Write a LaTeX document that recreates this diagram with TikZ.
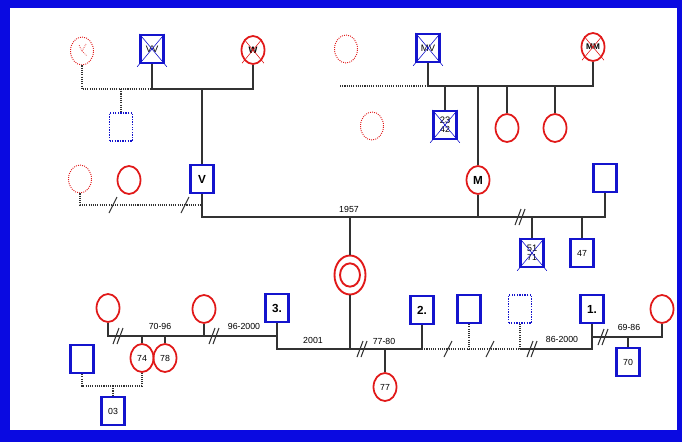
\documentclass[tikz,border=0pt]{standalone}
\usepackage{fontspec}
\setmainfont{Liberation Sans}
\usetikzlibrary{shapes.geometric}
\definecolor{pblue}{RGB}{20,20,205}
\definecolor{pred}{RGB}{225,25,25}
\definecolor{pline}{RGB}{50,50,50}
\definecolor{pframe}{RGB}{10,10,225}
\tikzset{
  male/.style={draw=pblue, line width=1.8pt, minimum width=0.69cm, minimum height=0.84cm, inner sep=0pt, font=\fontsize{7.5}{8}\selectfont},
  female/.style={ellipse, draw=pred, line width=1.5pt, minimum width=0.69cm, minimum height=0.84cm, inner sep=0pt, font=\fontsize{7.5}{8}\selectfont},
  ghostm/.style={draw=pblue, densely dotted, line width=1.2pt, minimum width=0.69cm, minimum height=0.84cm, inner sep=0pt},
  ghostf/.style={ellipse, draw=pred, densely dotted, line width=0.8pt, minimum width=0.69cm, minimum height=0.84cm, inner sep=0pt},
  link/.style={draw=pline, line width=0.9pt},
  dlink/.style={draw=pline, densely dotted, line width=0.9pt},
  yr/.style={font=\fontsize{7.5}{8}\selectfont, inner sep=0pt},
  tag/.style={font=\bfseries\fontsize{10}{12}\selectfont},
  xline/.style={line width=0.5pt, shorten >=-3pt}
}
\begin{document}
\begin{tikzpicture}[x=0.03cm, y=-0.03cm]
    \useasboundingbox (0,0) rectangle (682,442);
    \fill[pframe] (0,0) rectangle (682,442);
    \fill[white] (10,8) rectangle (677,430);

    % grandparents
    \node[ghostf] (vxd) at (82,51) {};
    \draw[pred, densely dotted, line width=0.6pt] (vxd.center) -- ++(-3,-6) (vxd.center) -- ++(4,-7) (vxd.center) -- ++(5,5);
    \node[male] (vv) at (152,49) {\fontsize{8}{8}\selectfont VV};
    \draw[pblue, xline] (vv.north west) -- (vv.south east);
    \draw[pblue, xline] (vv.north east) -- (vv.south west);
    \node[female] (vw) at (253,50) {\fontsize{8}{8}\selectfont\bfseries W};
    \draw[pred, xline] (vw.north west) -- (vw.south east);
    \draw[pred, xline] (vw.north east) -- (vw.south west);
    \node[ghostm] (vhalf) at (121,127) {};

    \node[ghostf] (mxd) at (346,49) {};
    \node[male] (mv) at (428,48) {\fontsize{8}{8}\selectfont MV};
    \draw[pblue, xline] (mv.north west) -- (mv.south east);
    \draw[pblue, xline] (mv.north east) -- (mv.south west);
    \node[female] (mm) at (593,47) {\fontsize{7}{8}\selectfont\bfseries MM};
    \draw[pred, xline] (mm.north west) -- (mm.south east);
    \draw[pred, xline] (mm.north east) -- (mm.south west);

    \coordinate (vvj) at (152,89);
    \coordinate (vcj) at (202,89);
    \coordinate (vdj) at (121,89);
    \draw[link] (vv.south) -- (vvj) -| (vw.south);
    \draw[dlink] (vxd.south) |- (vvj);
    \draw[dlink] (vdj) -- (vhalf.north);

    \coordinate (mvj) at (428,86);
    \coordinate (mxj) at (340,86);
    \draw[link] (mv.south) -- (mvj) -| (mm.south);
    \draw[dlink] (mxj) -- (mvj);

    % siblings of M
    \node[ghostf] (mxd2) at (372,126) {};
    \node[male, align=center] (m23) at (445,125) {\fontsize{8}{8.5}\selectfont 23\\42};
    \draw[pblue, xline] (m23.north west) -- (m23.south east);
    \draw[pblue, xline] (m23.north east) -- (m23.south west);
    \node[female] (ms1) at (507,128) {};
    \node[female] (ms2) at (555,128) {};
    \draw[link] (m23.north) -- (m23.north |- mvj);
    \draw[link] (ms1.north) -- (ms1.north |- mvj);
    \draw[link] (ms2.north) -- (ms2.north |- mvj);

    % parents
    \node[ghostf] (vxd2) at (80,179) {};
    \node[female] (vex) at (129,180) {};
    \node[male, tag] (v) at (202,179) {V};
    \node[female, tag] (m) at (478,180) {M};
    \node[male] (mex) at (605,178) {};
    \draw[link] (vcj) -- (v.north);
    \draw[link] (m.north) -- (m.north |- mvj);

    \coordinate (vdl) at (202,205);
    \coordinate (vml) at (202,217);
    \draw[dlink] (vxd2.south) |- (vdl);
    \draw[link] (v.south) -- (vml) -| (mex.south);
    \draw[link] (m.south) -- (m.south |- vml);
    \node[yr, above] (y57) at (349,213) {1957};

    \node[male, align=center] (s51) at (532,253) {\fontsize{8}{8.5}\selectfont 51\\71};
    \draw[pblue, xline] (s51.north west) -- (s51.south east);
    \draw[pblue, xline] (s51.north east) -- (s51.south west);
    \node[male] (s47) at (582,253) {47};
    \draw[link] (s51.north) -- (s51.north |- vml);
    \draw[link] (s47.north) -- (s47.north |- vml);

    % proband
    \node[female, line width=1.6pt, minimum width=0.93cm, minimum height=1.17cm] (pro) at (350,275) {};
    \node[female, line width=1.6pt, minimum width=0.6cm, minimum height=0.7cm] (proin) at (pro) {};
    \coordinate (proj) at (350,349);
    \draw[link] (pro.north) -- (pro.north |- vml);
    \draw[link] (pro.south) -- (proj);

    % partners of the proband
    \node[male, tag] (h3) at (277,308) {3.};
    \node[male, tag] (h2) at (422,310) {2.};
    \node[male] (b2) at (469,309) {};
    \node[ghostm] (b3) at (520,309) {};
    \node[male, tag] (h1) at (592,309) {1.};
    \coordinate (h3j) at (277,349);
    \coordinate (h2j) at (422,349);
    \coordinate (b3j) at (520,349);
    \draw[link] (h3.south) -- (h3j) -- (h2j) -- (h2.south);
    \draw[dlink] (h2j) -- (b3j) -- (b3.south);
    \draw[dlink] (b2.south) -- (b2.south |- h2j);
    \draw[link] (b3j) -| (h1.south);
    \node[yr, above] (y2001) at (313,344) {2001};
    \node[yr, above] (y77) at (384,345) {77-80};
    \node[yr, above] (y86) at (562,343) {86-2000};

    \node[female] (d77) at (385,387) {77};
    \draw[link] (d77.north) -- (d77.north |- proj);

    % other families of 3.
    \node[female] (w1) at (108,308) {};
    \node[female] (w2) at (204,309) {};
    \coordinate (h3l) at (277,336);
    \draw[link] (w1.south) |- (h3l);
    \draw[link] (w2.south) -- (w2.south |- h3l);
    \node[yr, above] (y70) at (160,330) {70-96};
    \node[yr, above] (y96) at (244,330) {96-2000};
    \node[female] (d74) at (142,358) {74};
    \node[female] (d78) at (165,358) {78};
    \draw[link] (d74.north) -- (d74.north |- h3l);
    \draw[link] (d78.north) -- (d78.north |- h3l);
    \node[male] (b1) at (82,359) {};
    \node[male] (s03) at (113,411) {03};
    \coordinate (s03j) at (113,386);
    \draw[dlink] (b1.south) |- (s03j) -| (d74.south);
    \draw[dlink] (s03j) -- (s03.north);

    % other family of 1.
    \node[female] (w3) at (662,309) {};
    \coordinate (h1r) at (592,337);
    \draw[link] (h1r) -| (w3.south);
    \node[yr, above] (y69) at (629,331) {69-86};
    \node[male] (s70) at (628,362) {70};
    \draw[link] (s70.north) -- (s70.north |- h1r);

    % separation marks
    \foreach \x/\y in {118/336, 214/336, 362/349, 532/349, 603/337, 520/217} {
      \draw[link] (\x-5,\y+8) -- (\x+1,\y-8);
      \draw[link] (\x-1,\y+8) -- (\x+5,\y-8);
    }
    \foreach \x/\y in {113/205, 185/205, 448/349, 490/349}
      \draw[link] (\x-4,\y+8) -- (\x+4,\y-8);
  \end{tikzpicture}
\end{document}
